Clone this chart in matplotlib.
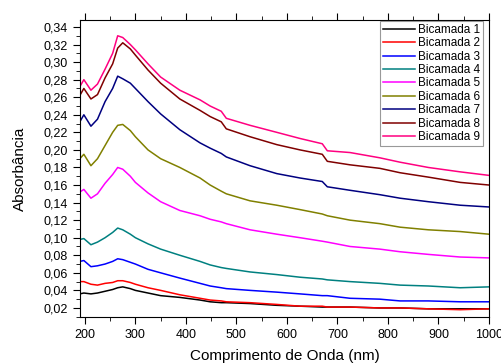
import matplotlib
matplotlib.use("Agg")
import matplotlib.pyplot as plt
from matplotlib.ticker import FuncFormatter, MultipleLocator

plt.rcParams['font.family'] = ['Liberation Sans', 'DejaVu Sans']

# wavelength grid (nm)
wl = [190, 198, 212, 225, 240, 255, 265, 275, 290, 300, 325, 350, 388, 428,
      448, 470, 480, 527, 580, 626, 670, 680, 725, 784, 824, 880, 943, 1000]

b1 = [0.036, 0.037, 0.036, 0.037, 0.039, 0.041, 0.043, 0.044, 0.042, 0.040, 0.037, 0.034, 0.032, 0.029,
      0.027, 0.026, 0.026, 0.025, 0.023, 0.022, 0.021, 0.021, 0.021, 0.020, 0.020, 0.019, 0.019, 0.019]
b2 = [0.050, 0.050, 0.047, 0.046, 0.048, 0.049, 0.051, 0.051, 0.049, 0.047, 0.043, 0.040, 0.035, 0.031,
      0.029, 0.028, 0.027, 0.026, 0.024, 0.022, 0.022, 0.021, 0.021, 0.020, 0.020, 0.019, 0.018, 0.019]
b3 = [0.073, 0.074, 0.067, 0.068, 0.070, 0.073, 0.076, 0.075, 0.072, 0.070, 0.064, 0.060, 0.054, 0.048,
      0.045, 0.043, 0.042, 0.040, 0.038, 0.036, 0.034, 0.034, 0.031, 0.030, 0.028, 0.028, 0.027, 0.027]
b4 = [0.098, 0.099, 0.092, 0.095, 0.100, 0.106, 0.111, 0.109, 0.104, 0.100, 0.093, 0.087, 0.080, 0.073,
      0.069, 0.066, 0.065, 0.061, 0.058, 0.055, 0.053, 0.052, 0.050, 0.048, 0.046, 0.045, 0.043, 0.044]
b5 = [0.152, 0.155, 0.145, 0.150, 0.162, 0.172, 0.180, 0.178, 0.170, 0.163, 0.151, 0.141, 0.131, 0.125,
      0.121, 0.118, 0.116, 0.109, 0.104, 0.100, 0.096, 0.095, 0.090, 0.087, 0.084, 0.081, 0.078, 0.077]
b6 = [0.190, 0.195, 0.182, 0.190, 0.205, 0.220, 0.228, 0.229, 0.222, 0.215, 0.200, 0.190, 0.180, 0.168,
      0.160, 0.153, 0.150, 0.142, 0.137, 0.132, 0.127, 0.125, 0.120, 0.116, 0.112, 0.109, 0.107, 0.104]
b7 = [0.232, 0.240, 0.227, 0.235, 0.255, 0.270, 0.284, 0.281, 0.276, 0.270, 0.255, 0.241, 0.223, 0.208,
      0.202, 0.196, 0.192, 0.182, 0.173, 0.168, 0.164, 0.158, 0.154, 0.149, 0.145, 0.141, 0.137, 0.135]
b8 = [0.262, 0.270, 0.258, 0.263, 0.282, 0.298, 0.316, 0.322, 0.315, 0.308, 0.291, 0.276, 0.258, 0.245,
      0.238, 0.232, 0.224, 0.215, 0.206, 0.200, 0.195, 0.187, 0.183, 0.179, 0.174, 0.169, 0.163, 0.160]
b9 = [0.272, 0.280, 0.268, 0.275, 0.292, 0.310, 0.330, 0.328, 0.320, 0.314, 0.298, 0.283, 0.268, 0.257,
      0.250, 0.244, 0.236, 0.228, 0.220, 0.213, 0.207, 0.199, 0.197, 0.191, 0.186, 0.180, 0.175, 0.171]

series = [b1, b2, b3, b4, b5, b6, b7, b8, b9]
labels = ['Bicamada %d' % (i + 1) for i in range(9)]
colors = ['#000000', '#ff0000', '#0000ff', '#008080', '#ff00ff',
          '#808000', '#000080', '#800000', '#ff0080']

fig = plt.figure(figsize=(5.02, 3.63), dpi=100)
ax = fig.add_axes([0.159, 0.127, 0.815, 0.818])

for y, lab, c in zip(series, labels, colors):
    ax.plot(wl, y, color=c, lw=1.1, label=lab)

ax.set_xlim(190, 1000)
ax.set_ylim(0.0098, 0.348)
ax.xaxis.set_major_locator(MultipleLocator(100))
ax.xaxis.set_minor_locator(MultipleLocator(50))
ax.yaxis.set_major_locator(MultipleLocator(0.02))
ax.yaxis.set_minor_locator(MultipleLocator(0.01))
ax.yaxis.set_major_formatter(FuncFormatter(lambda v, p: ('%.2f' % v).replace('.', ',')))
ax.tick_params(which='both', direction='out', top=True, right=False, labelsize=9)
ax.tick_params(which='major', length=5)
ax.tick_params(which='minor', length=3)

ax.set_xlabel('Comprimento de Onda (nm)', fontsize=11, labelpad=6)
ax.set_ylabel('Absorbância', fontsize=11, labelpad=12)

leg = ax.legend(loc='upper right', bbox_to_anchor=(0.986, 0.997), fontsize=8.5,
                frameon=True, fancybox=False, edgecolor='#808080',
                handlelength=2.7, labelspacing=0.12, borderpad=0.25,
                handletextpad=0.3, borderaxespad=0.0)
leg.get_frame().set_linewidth(0.8)

fig.savefig('out.png', dpi=100)
